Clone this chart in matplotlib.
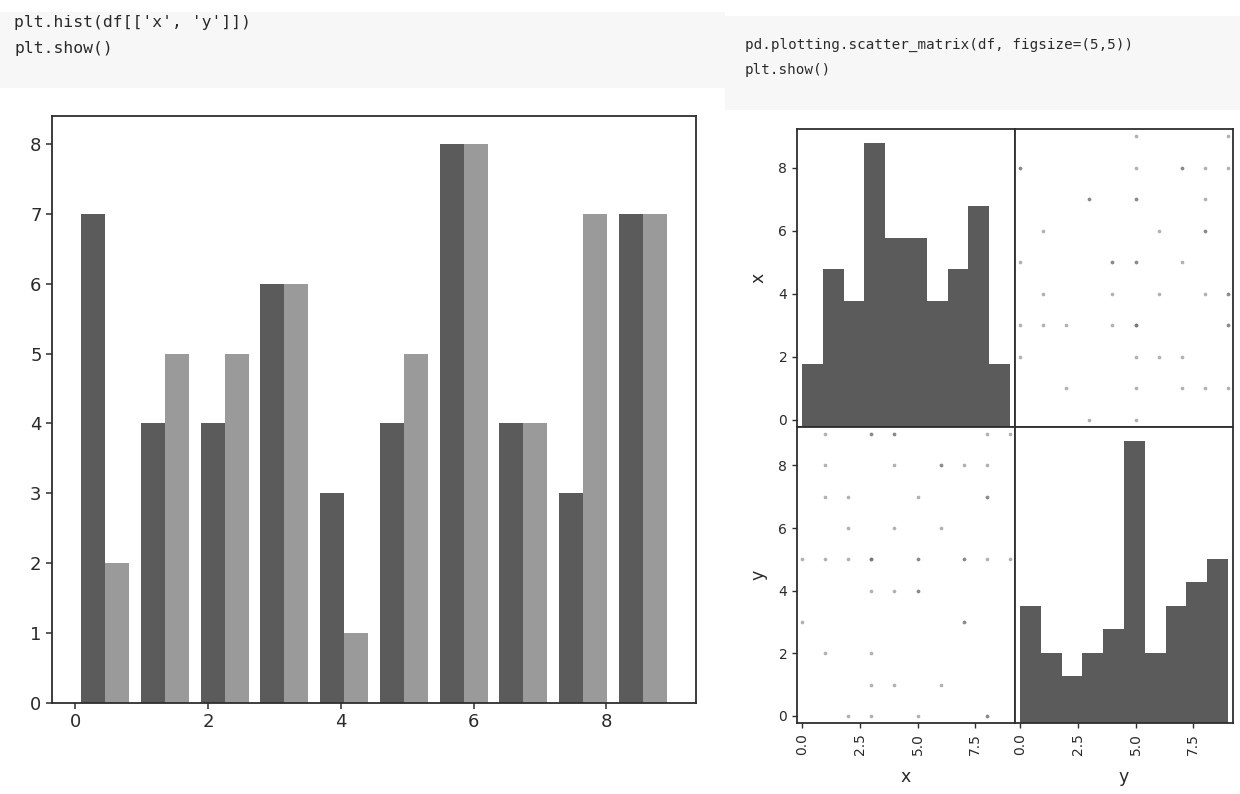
import numpy as np
import matplotlib
matplotlib.use("Agg")
import matplotlib.pyplot as plt
from matplotlib.patches import Rectangle

# ---------------- data ----------------
# left chart: plt.hist(df[['x','y']]) counts per bin (10 bins over 0..9)
hist_counts_x = [7, 4, 4, 6, 3, 4, 8, 4, 3, 7]
hist_counts_y = [2, 5, 5, 6, 1, 5, 8, 4, 7, 7]

# right chart: scatter matrix raw data (50 rows)
sm_x = [0, 0, 1, 1, 1, 1, 1, 2, 2, 2, 2, 3, 3, 3, 3, 3, 3, 3, 3, 3,
        4, 4, 4, 4, 4, 4, 5, 5, 5, 5, 5, 5, 6, 6, 6, 6, 7, 7, 7, 7, 7,
        8, 8, 8, 8, 8, 8, 8, 9, 9]
sm_y = [5, 3, 9, 8, 7, 5, 2, 7, 6, 5, 0, 9, 9, 5, 5, 5, 4, 2, 1, 0,
        9, 9, 8, 6, 4, 1, 7, 5, 5, 4, 4, 0, 8, 8, 6, 1, 8, 5, 5, 3, 3,
        9, 8, 7, 7, 5, 0, 0, 9, 5]
columns = ["x", "y"]

code_left = ["plt.hist(df[['x', 'y']])", "plt.show()"]
code_right = ["pd.plotting.scatter_matrix(df, figsize=(5,5))", "plt.show()"]

# ---------------- style ----------------
DARK = "#5b5b5b"
LIGHT = "#9a9a9a"
FRAME = "#2e2e2e"
TXT = "#2a2a2a"
FONT = ["DejaVu Sans"]

W, H = 1240, 794
fig = plt.figure(figsize=(W / 100, H / 100), dpi=100)
fig.patch.set_facecolor("white")


def rect(l, t, r, b):
    return [l / W, 1 - b / H, (r - l) / W, (b - t) / H]


# faint code-cell background bands
bg = fig.add_axes([0, 0, 1, 1], zorder=-10)
bg.set_xlim(0, W)
bg.set_ylim(H, 0)
bg.axis("off")
bg.add_patch(Rectangle((0, 12), 725, 76, color="#f7f7f7", lw=0))
bg.add_patch(Rectangle((725, 16), 515, 94, color="#f7f7f7", lw=0))

for i, line in enumerate(code_left):
    fig.text(14 / W, 1 - (22 + 26 * i) / H, line, family="DejaVu Sans Mono",
             fontsize=11.8, color="#2a2a2a", va="center", ha="left")
for i, line in enumerate(code_right):
    fig.text(745 / W, 1 - (45 + 25 * i) / H, line, family="DejaVu Sans Mono",
             fontsize=10.3, color="#2a2a2a", va="center", ha="left")

# ---------------- left chart ----------------
ax = fig.add_axes(rect(52, 116, 696, 703))
edges = np.linspace(0, 9, len(hist_counts_x) + 1)
centers = (edges[:-1] + edges[1:]) / 2
ax.hist([centers, centers], bins=edges, weights=[hist_counts_x, hist_counts_y],
        color=[DARK, LIGHT])
for s in ax.spines.values():
    s.set_color(FRAME)
    s.set_linewidth(1.3)
ax.tick_params(colors=FRAME, labelcolor=TXT, labelsize=13, length=4, width=1.1)

# ---------------- scatter matrix ----------------
data = {"x": np.array(sm_x, float), "y": np.array(sm_y, float)}
cols_px = [(797, 1015), (1015, 1233)]
rows_px = [(129, 427), (427, 723)]
axes = [[fig.add_axes(rect(cols_px[j][0], rows_px[i][0], cols_px[j][1], rows_px[i][1]))
         for j in range(2)] for i in range(2)]

bounds = {}
for c in columns:
    v = data[c]
    pad = (v.max() - v.min()) * 0.05 / 2
    bounds[c] = (v.min() - pad, v.max() + pad)

for i, ci in enumerate(columns):
    for j, cj in enumerate(columns):
        a = axes[i][j]
        if i == j:
            a.hist(data[ci], bins=10, color=DARK)
            a.set_xlim(bounds[ci])
        else:
            a.scatter(data[cj], data[ci], s=7, marker="o", color="#646464",
                      alpha=0.5, linewidths=0)
            a.set_xlim(bounds[cj])
            a.set_ylim(bounds[ci])
        for s in a.spines.values():
            s.set_color(FRAME)
            s.set_linewidth(1.3)
        a.tick_params(colors=FRAME, labelcolor=TXT, labelsize=10, length=3.5, width=1.0)
        if j == 0:
            a.set_ylabel(ci, fontsize=12.5, color=TXT, labelpad=8)
        else:
            a.yaxis.set_visible(False)
        if i == 1:
            a.set_xlabel(cj, fontsize=12.5, color=TXT, labelpad=10)
            a.xaxis.set_major_locator(matplotlib.ticker.MaxNLocator(4))
        else:
            a.xaxis.set_visible(False)

# relabel diagonal y-axis of first cell to data range (as pandas does)
lim1 = bounds[columns[0]]
locs = axes[0][1].yaxis.get_majorticklocs()
locs = locs[(lim1[0] <= locs) & (locs <= lim1[1])]
adj = (locs - lim1[0]) / (lim1[1] - lim1[0])
lim0 = axes[0][0].get_ylim()
adj = adj * (lim0[1] - lim0[0]) + lim0[0]
axes[0][0].set_yticks(adj)
axes[0][0].set_yticklabels([str(int(l)) for l in locs])

for row in axes:
    for a in row:
        for lab in a.get_xticklabels():
            lab.set_rotation(90)

fig.savefig("out.png", dpi=100, facecolor="white")
